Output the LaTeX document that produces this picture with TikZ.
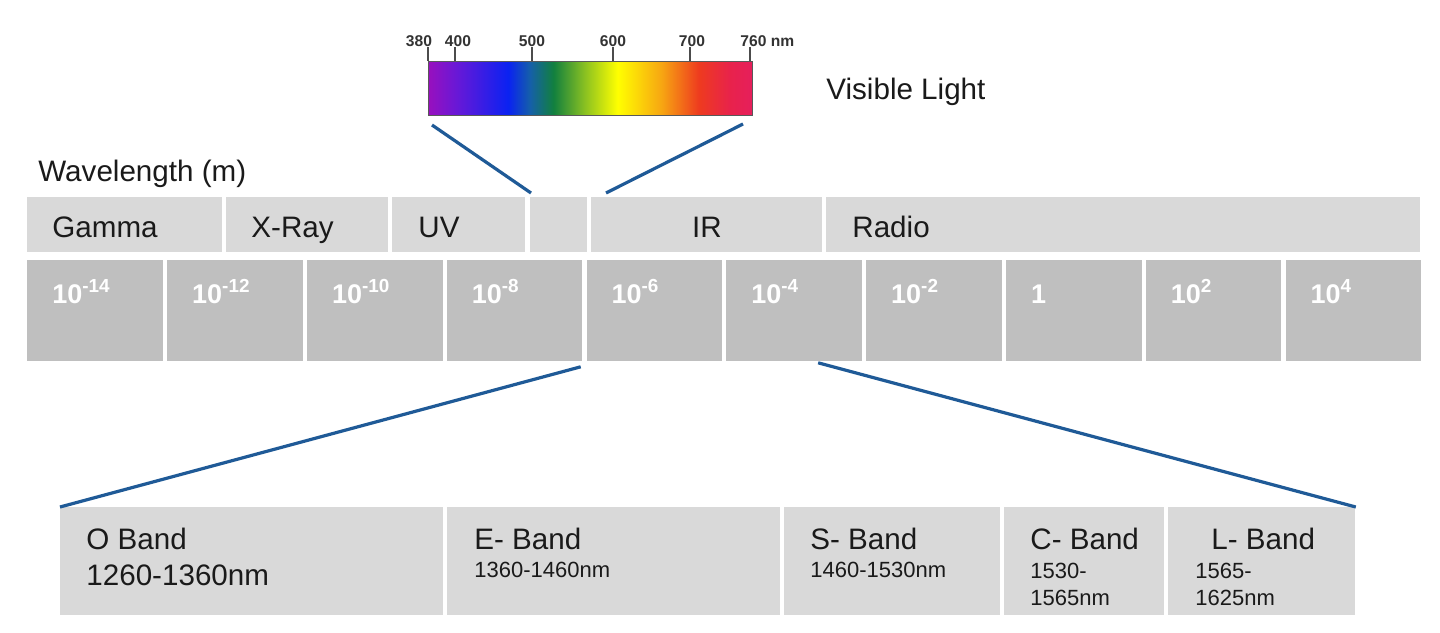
\documentclass[tikz,border=0pt]{standalone}
\usepackage{fontspec}
\setmainfont{Liberation Sans}
\usepackage{xcolor}
\usetikzlibrary{positioning, calc}

\definecolor{bandlight}{HTML}{D9D9D9}
\definecolor{banddark}{HTML}{BFBFBF}
\definecolor{zoomblue}{HTML}{1F5A97}
\definecolor{inktext}{HTML}{1A1A1A}
% spectrum colours
\definecolor{spA}{HTML}{9810BE}
\definecolor{spB}{HTML}{6A18D6}
\definecolor{spC}{HTML}{0A22F2}
\definecolor{spD}{HTML}{1560A8}
\definecolor{spE}{HTML}{12803E}
\definecolor{spF}{HTML}{8CC221}
\definecolor{spG}{HTML}{FFFF00}
\definecolor{spH}{HTML}{F7A512}
\definecolor{spI}{HTML}{EE3B1F}
\definecolor{spJ}{HTML}{E8224C}
\definecolor{spK}{HTML}{E61F5C}

\pgfdeclarehorizontalshading{spectrum}{100bp}{%
  color(0bp)=(spA); color(25bp)=(spA); color(29.2bp)=(spB);
  color(37.3bp)=(spC); color(40.7bp)=(spD); color(44.3bp)=(spE);
  color(49.2bp)=(spF); color(54.2bp)=(spG); color(61bp)=(spH);
  color(66.7bp)=(spI); color(71.6bp)=(spJ); color(75bp)=(spK);
  color(100bp)=(spK)}

\tikzset{
  bandcell/.style={fill=bandlight, inner sep=0pt, anchor=north west, minimum height=27.5pt},
  powcell/.style={fill=banddark, inner sep=0pt, anchor=north west, minimum width=67.75pt, minimum height=50.5pt},
  subcell/.style={fill=bandlight, inner sep=0pt, anchor=north west, minimum height=54pt},
  celltext/.style={inner sep=0pt, anchor=base west, text=inktext, font=\fontsize{14.8}{17}\selectfont},
  smalltext/.style={inner sep=0pt, anchor=north west, align=left, text=inktext, font=\fontsize{11}{13.5}\selectfont},
  powtext/.style={inner sep=0pt, anchor=base west, text=white, font=\bfseries\fontsize{13.5}{16}\selectfont},
  ticktext/.style={inner sep=0pt, anchor=base, text=black!80, font=\bfseries\fontsize{7.8}{9}\selectfont},
  zoomline/.style={draw=zoomblue, line width=1.6pt},
}

\begin{document}
\begin{tikzpicture}[x=0.5pt, y=-0.5pt]

        \fill[white] (0,0) rectangle (1440,632);
        \useasboundingbox (0,0) rectangle (1440,632);

        % ==========================================
        % TOP: Visible light spectrum
        % ==========================================
        \node[draw=black!65, line width=0.5pt, shade, shading=spectrum, inner sep=0pt,
              anchor=north west, minimum width=162pt, minimum height=27pt] (spec) at (428,61) {};

        % Scale ticks and labels
        \foreach \x in {428, 455, 532, 613, 690, 750}
            \draw[black!70, line width=0.6pt] (\x,47) -- (\x,61);
        \node[ticktext] (nm380) at (419,46) {380};
        \node[ticktext] (nm400) at (458,46) {400};
        \node[ticktext] (nm500) at (532,46) {500};
        \node[ticktext] (nm600) at (613,46) {600};
        \node[ticktext] (nm700) at (692,46) {700};
        \node[ticktext, anchor=base west] (nm760) at (740,46) {760 nm};

        \node[celltext] (vislabel) at (826,99) {Visible Light};
        \node[celltext] (wavelabel) at (38,181) {Wavelength (m)};

        % ==========================================
        % MIDDLE: Band names
        % ==========================================
        \node[bandcell, minimum width=97.5pt] (gamma) at (27,197) {};
        \node[bandcell, minimum width=81pt] (xray) at (226,197) {};
        \node[bandcell, minimum width=66.5pt] (uv) at (392,197) {};
        \node[bandcell, minimum width=28.5pt] (vis) at (530,197) {};
        \node[bandcell, minimum width=115.5pt] (ir) at (591,197) {};
        \node[bandcell, minimum width=297pt] (radio) at (826,197) {};

        \node[celltext] (gammatext) at ($(gamma.north west)+(25,40)$) {Gamma};
        \node[celltext] (xraytext) at ($(xray.north west)+(25,40)$) {X-Ray};
        \node[celltext] (uvtext) at ($(uv.north west)+(26,40)$) {UV};
        \node[celltext, anchor=base] (irtext) at ($(ir.north)+(0,40)$) {IR};
        \node[celltext] (radiotext) at ($(radio.north west)+(26,40)$) {Radio};

        % Wavelength decades
        \foreach \i/\lbl in {0/{10\textsuperscript{-14}}, 1/{10\textsuperscript{-12}},
                             2/{10\textsuperscript{-10}}, 3/{10\textsuperscript{-8}},
                             4/{10\textsuperscript{-6}}, 5/{10\textsuperscript{-4}},
                             6/{10\textsuperscript{-2}}, 7/1,
                             8/{10\textsuperscript{2}}, 9/{10\textsuperscript{4}}} {
            \node[powcell] (pow\i) at (27+\i*139.8,260) {};
            \node[powtext] (powtext\i) at ($(pow\i.north west)+(25,43)$) {\lbl};
        }

        % ==========================================
        % BOTTOM: Optical fibre bands
        % ==========================================
        \node[subcell, minimum width=191.5pt] (oband) at (60,507) {};
        \node[subcell, minimum width=166.5pt] (eband) at (447,507) {};
        \node[subcell, minimum width=108pt] (sband) at (784,507) {};
        \node[subcell, minimum width=80pt] (cband) at (1004,507) {};
        \node[subcell, minimum width=93.5pt] (lband) at (1168,507) {};

        \node[celltext] (otitle) at ($(oband.north west)+(26,42)$) {O Band};
        \node[celltext] (orange) at ($(oband.north west)+(26,78)$) {1260-1360nm};
        \node[celltext] (etitle) at ($(eband.north west)+(27,42)$) {E- Band};
        \node[smalltext] (erange) at ($(eband.north west)+(27,55)$) {1360-1460nm};
        \node[celltext] (stitle) at ($(sband.north west)+(26,42)$) {S- Band};
        \node[smalltext] (srange) at ($(sband.north west)+(26,55)$) {1460-1530nm};
        \node[celltext] (ctitle) at ($(cband.north west)+(26,42)$) {C- Band};
        \node[smalltext] (crange) at ($(cband.north west)+(26,56)$) {1530-\\1565nm};
        \node[celltext] (ltitle) at ($(lband.north west)+(43,42)$) {L- Band};
        \node[smalltext] (lrange) at ($(lband.north west)+(27,56)$) {1565-\\1625nm};

        % ==========================================
        % Zoom lines
        % ==========================================
        \draw[zoomline] ([shift={(4,9)}]spec.south west) -- ([shift={(1,-4)}]vis.north west);
        \draw[zoomline] ([shift={(-10,8)}]spec.south east) -- ([shift={(15,-4)}]ir.north west);
        \draw[zoomline] ([shift={(-2,5)}]pow3.south east) -- (oband.north west);
        \draw[zoomline] ([shift={(24,1)}]pow5.south) -- (lband.north east);

\end{tikzpicture}
\end{document}
